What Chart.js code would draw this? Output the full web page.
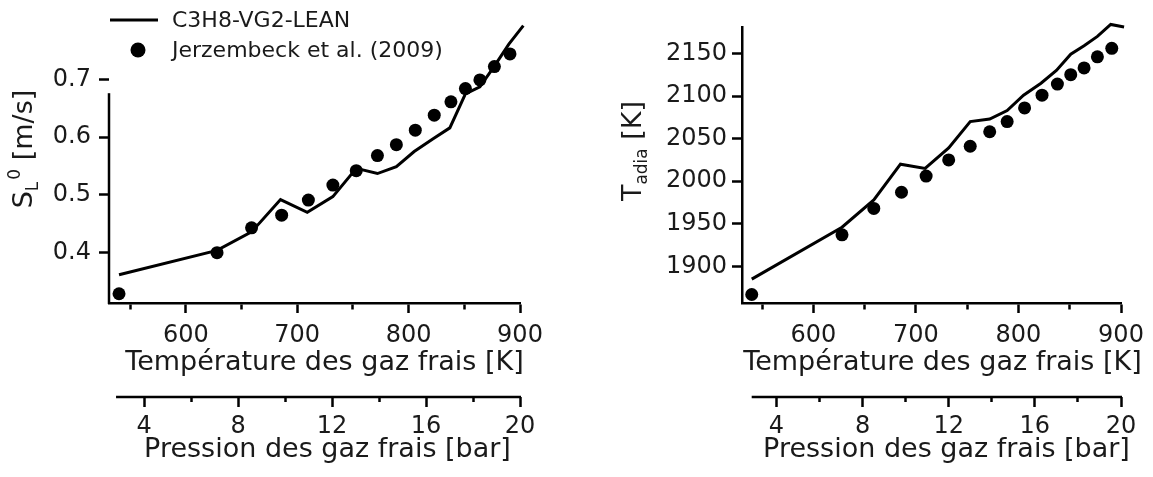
<!DOCTYPE html>
<html>
<head>
<meta charset="utf-8">
<script src="https://cdn.jsdelivr.net/npm/chart.js@4.4.0/dist/chart.umd.min.js"></script>
<style>
  html, body { margin: 0; padding: 0; background: #fff; }
  #wrap { position: relative; width: 1153px; height: 477px; overflow: hidden; }
  .panel { position: absolute; top: 0; }
  #leftPanel { left: 0; }
  #rightPanel { left: 576px; }
</style>
</head>
<body>
<div id="wrap">
  <div class="panel" id="leftPanel"><canvas id="slChart" width="576" height="477"></canvas></div>
  <div class="panel" id="rightPanel"><canvas id="tadChart" width="577" height="477"></canvas></div>
</div>
<script>
// Fresh gas temperature [K] of the measured points / model curve
const tempExp = [540, 628, 659, 686, 710, 732, 753, 772, 789, 806, 823, 838, 851, 864, 877, 891];
const tempModel = [540, 628, 659, 685, 709, 732, 753, 772, 789, 805, 822, 837, 851, 864, 877, 890, 903];

// Laminar flame speed [m/s]
const slExp = [0.329, 0.400, 0.443, 0.465, 0.491, 0.517, 0.542, 0.568, 0.587, 0.612, 0.638, 0.661, 0.684, 0.699, 0.722, 0.744];
const slModel = [0.362, 0.404, 0.436, 0.492, 0.470, 0.497, 0.546, 0.537, 0.549, 0.575, 0.597, 0.616, 0.675, 0.687, 0.723, 0.761, 0.793];

// Adiabatic flame temperature [K]
const tadExp = [1867, 1937, 1968, 1987, 2006, 2025, 2041, 2058, 2070, 2086, 2101, 2114, 2125, 2133, 2146, 2156];
const tadModel = [1885, 1946, 1978, 2020, 2015, 2039, 2070, 2073, 2083, 2101, 2115, 2130, 2149, 2159, 2170, 2184, 2181];

// Labelled ticks (the others are short minor ticks)
const tempTickLabels = [600, 700, 800, 900];
const pressTickLabels = [4, 8, 12, 16, 20];

const seriesNames = ['C3H8-VG2-LEAN', 'Jerzembeck et al. (2009)'];

const FONT = 'DejaVu Sans';
Chart.defaults.font.family = FONT;
Chart.defaults.color = '#1a1a1a';

function pts(xs, ys) {
  return xs.map((x, i) => ({ x: x, y: ys[i] }));
}

function setFont(ctx, size) {
  ctx.font = size + 'px "' + FONT + '", sans-serif';
}

// rotated y title built from pieces (main text, subscript, superscript)
function drawYTitle(ctx, yt) {
  const widths = [];
  let total = 0;
  ctx.save();
  yt.pieces.forEach(p => {
    setFont(ctx, p.size);
    const w = ctx.measureText(p.text).width;
    widths.push(w);
    total += w + p.gap;
  });
  ctx.restore();
  let along = -total / 2;
  yt.pieces.forEach((p, i) => {
    along += p.gap;
    ctx.save();
    ctx.translate(yt.baseX + p.shift, yt.cy - along);
    ctx.rotate(-Math.PI / 2);
    setFont(ctx, p.size);
    ctx.fillStyle = '#1a1a1a';
    ctx.textAlign = 'left';
    ctx.textBaseline = 'alphabetic';
    ctx.fillText(p.text, 0, 0);
    ctx.restore();
    along += widths[i];
  });
}

// extras for one panel: partial axis lines, axis titles, legend
function makeExtras(cfg) {
  return {
    id: 'axisExtras',
    afterDraw(chart) {
      const ctx = chart.ctx;
      ctx.save();
      ctx.strokeStyle = '#000';
      ctx.lineWidth = 2.5;
      cfg.borders.forEach(b => {
        const s = chart.scales[b.scale];
        ctx.beginPath();
        if (s.isHorizontal()) {
          ctx.moveTo(s.getPixelForValue(b.from), s.top);
          ctx.lineTo(s.getPixelForValue(b.to) + 1, s.top);
        } else {
          ctx.moveTo(s.right, s.getPixelForValue(b.from) + 1);
          ctx.lineTo(s.right, s.getPixelForValue(b.to));
        }
        ctx.stroke();
      });
      ctx.restore();

      ctx.save();
      ctx.fillStyle = '#1a1a1a';
      ctx.textBaseline = 'middle';
      ctx.textAlign = 'center';
      setFont(ctx, 27);
      cfg.xTitles.forEach(t => {
        const s = chart.scales[t.scale];
        ctx.fillText(t.text, (s.left + s.right) / 2 + t.dx, s.bottom - t.offset);
      });
      ctx.restore();

      drawYTitle(ctx, cfg.yTitle);

      if (cfg.legend) {
        const lg = cfg.legend;
        const ds = chart.data.datasets;
        ctx.save();
        setFont(ctx, 22);
        ctx.textAlign = 'left';
        ctx.textBaseline = 'middle';
        ctx.strokeStyle = ds[0].borderColor;
        ctx.lineWidth = ds[0].borderWidth;
        ctx.beginPath();
        ctx.moveTo(lg.x, lg.y);
        ctx.lineTo(lg.x + 48, lg.y);
        ctx.stroke();
        ctx.fillStyle = '#1a1a1a';
        ctx.fillText(ds[0].label, lg.x + 62, lg.y + 1);
        ctx.fillStyle = ds[1].backgroundColor;
        ctx.beginPath();
        ctx.arc(lg.x + 28, lg.y + 30, 7.5, 0, Math.PI * 2);
        ctx.fill();
        ctx.fillStyle = '#1a1a1a';
        ctx.fillText(ds[1].label, lg.x + 62, lg.y + 31);
        ctx.restore();
      }
    }
  };
}

function makeDatasets(model, exp) {
  return [
    {
      label: seriesNames[0],
      data: pts(tempModel, model),
      showLine: true,
      borderColor: '#000',
      borderWidth: 3,
      pointRadius: 0,
      tension: 0,
      clip: false
    },
    {
      label: seriesNames[1],
      data: pts(tempExp, exp),
      showLine: false,
      pointRadius: 6.5,
      pointBorderWidth: 0,
      backgroundColor: '#000',
      borderColor: '#000',
      clip: false
    }
  ];
}

function bottomScales(tMin, pMin) {
  return {
    x: {
      type: 'linear', position: 'bottom', weight: 0,
      min: tMin, max: 900,
      afterFit: s => { s.height = 94; },
      border: { display: true, color: '#000', width: 2.5 },
      grid: {
        drawOnChartArea: false, tickLength: 10, tickWidth: 2.5, tickColor: '#000',
        tickBorderDash: c => (c.tick && tempTickLabels.includes(c.tick.value)) ? [] : [5, 100]
      },
      ticks: {
        stepSize: 50, autoSkip: false, maxRotation: 0, includeBounds: false, padding: 8,
        font: { size: 24 },
        callback: v => tempTickLabels.includes(v) ? String(v) : ''
      }
    },
    p: {
      type: 'linear', axis: 'x', position: 'bottom', weight: 1,
      min: pMin, max: 20,
      afterFit: s => { s.height = 80; },
      border: { display: false },
      grid: {
        drawOnChartArea: false, tickLength: 10, tickWidth: 2.5, tickColor: '#000',
        tickBorderDash: c => (c.tick && pressTickLabels.includes(c.tick.value)) ? [] : [5, 100]
      },
      ticks: {
        stepSize: 2, autoSkip: false, maxRotation: 0, includeBounds: false, padding: 5,
        font: { size: 24 },
        callback: v => pressTickLabels.includes(v) ? String(v) : ''
      }
    }
  };
}

// Left: laminar flame speed
const leftScales = bottomScales(531, 2.5);
leftScales.y = {
  min: 0.313, max: 0.794,
  afterFit: s => { s.width = 109; },
  border: { display: false },
  grid: { drawOnChartArea: false, tickLength: 10, tickWidth: 2.5, tickColor: '#000' },
  ticks: { stepSize: 0.1, includeBounds: false, padding: 8, font: { size: 24 } }
};

new Chart(document.getElementById('slChart'), {
  type: 'scatter',
  data: { datasets: makeDatasets(slModel, slExp) },
  options: {
    responsive: false,
    animation: false,
    layout: { padding: { top: 25, right: 56, left: 0, bottom: 0 } },
    plugins: { legend: { display: false }, tooltip: { enabled: false } },
    scales: leftScales
  },
  plugins: [makeExtras({
    borders: [
      { scale: 'y', from: 0.313, to: 0.676 },
      { scale: 'p', from: 2.8, to: 20 }
    ],
    xTitles: [
      { scale: 'x', text: 'Température des gaz frais [K]', dx: 10, offset: 34 },
      { scale: 'p', text: 'Pression des gaz frais [bar]', dx: 13, offset: 27 }
    ],
    yTitle: {
      baseX: 32, cy: 149,
      pieces: [
        { text: 'S', size: 27, shift: 0, gap: 0 },
        { text: 'L', size: 17, shift: 6, gap: 0 },
        { text: '0', size: 17, shift: -12, gap: 2 },
        { text: ' [m/s]', size: 27, shift: 0, gap: 0 }
      ]
    },
    legend: { x: 110, y: 20 }
  })]
});

// Right: adiabatic flame temperature
const rightScales = bottomScales(530.5, 2.4);
rightScales.y = {
  min: 1857, max: 2181,
  afterFit: s => { s.width = 166; },
  border: { display: true, color: '#000', width: 2.5 },
  grid: { drawOnChartArea: false, tickLength: 10, tickWidth: 2.5, tickColor: '#000' },
  ticks: { stepSize: 50, includeBounds: false, padding: 5, font: { size: 24 }, callback: v => String(v) }
};

new Chart(document.getElementById('tadChart'), {
  type: 'scatter',
  data: { datasets: makeDatasets(tadModel, tadExp) },
  options: {
    responsive: false,
    animation: false,
    layout: { padding: { top: 27, right: 32, left: 0, bottom: 0 } },
    plugins: { legend: { display: false }, tooltip: { enabled: false } },
    scales: rightScales
  },
  plugins: [makeExtras({
    borders: [
      { scale: 'p', from: 2.85, to: 20 }
    ],
    xTitles: [
      { scale: 'x', text: 'Température des gaz frais [K]', dx: 11, offset: 34 },
      { scale: 'p', text: 'Pression des gaz frais [bar]', dx: 15, offset: 27 }
    ],
    yTitle: {
      baseX: 65, cy: 151,
      pieces: [
        { text: 'T', size: 27, shift: 0, gap: 0 },
        { text: 'adia', size: 17, shift: 6, gap: 0 },
        { text: ' [K]', size: 27, shift: 0, gap: 0 }
      ]
    }
  })]
});
</script>
</body>
</html>
